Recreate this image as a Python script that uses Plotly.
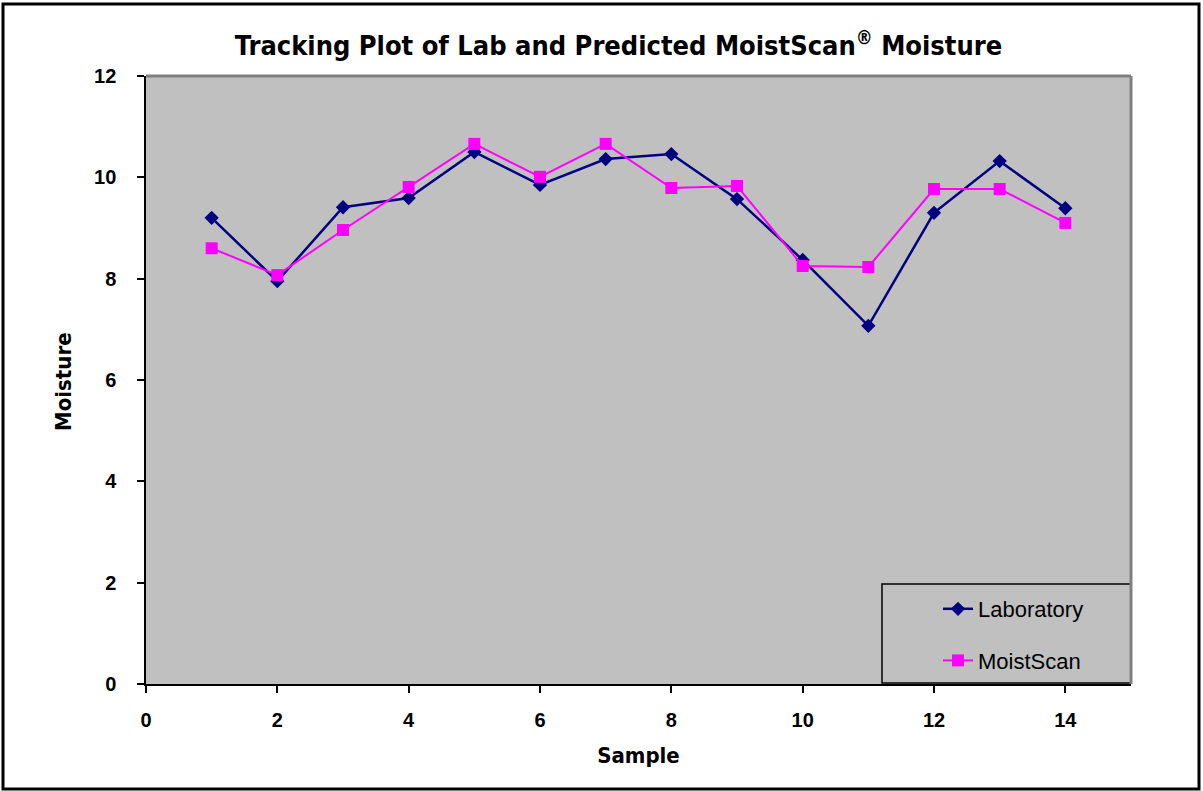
import plotly.graph_objects as go

samples = list(range(1, 15))
laboratory = [9.20, 7.95, 9.41, 9.59, 10.50, 9.85, 10.36, 10.46, 9.57, 8.37, 7.07, 9.30, 10.32, 9.39]
moistscan = [8.60, 8.07, 8.96, 9.81, 10.66, 10.01, 10.66, 9.79, 9.83, 8.25, 8.23, 9.77, 9.77, 9.10]

W, H = 1203, 791
L, R, T, B = 146, 1131, 76, 684
pw, ph = R - L, B - T

def px(x):
    return (x - L) / pw

def py(y):
    return (B - y) / ph

fig = go.Figure()
fig.add_trace(go.Scatter(
    x=samples, y=laboratory, name="Laboratory", mode="lines+markers",
    line=dict(color="#000080", width=2.5),
    marker=dict(symbol="diamond", size=11, color="#000080"),
    legendgroup="a",
))
fig.add_trace(go.Scatter(
    x=samples, y=moistscan, name="MoistScan", mode="lines+markers",
    line=dict(color="#FF00FF", width=2),
    marker=dict(symbol="square", size=12, color="#FF00FF"),
    legendgroup="b",
))

fig.update_layout(
    width=W, height=H,
    margin=dict(l=L, r=W - R, t=T, b=H - B),
    paper_bgcolor="white",
    plot_bgcolor="#C0C0C0",
    title=dict(
        text="Tracking Plot of Lab and Predicted MoistScan<sup>®</sup> Moisture",
        font=dict(family="DejaVu Sans Condensed", size=27, color="black", weight="bold"),
        x=(237 + 1000) / 2 / W, xanchor="center", y=1 - 46 / H, yanchor="middle",
    ),
    font=dict(family="Liberation Sans", color="black"),
    xaxis=dict(
        range=[0, 15], dtick=2, tick0=0, showgrid=False, zeroline=False,
        showline=True, linecolor="black", linewidth=2,
        ticks="outside", ticklen=7, tickwidth=2, tickcolor="black",
        ticklabelstandoff=10,
        tickfont=dict(size=20, family="Liberation Sans", weight="bold"),
        title=dict(text="Sample", font=dict(size=22, family="DejaVu Sans Condensed", weight="bold"), standoff=18),
    ),
    yaxis=dict(
        range=[0, 12], dtick=2, tick0=0, showgrid=False, zeroline=False,
        showline=True, linecolor="black", linewidth=2,
        ticks="outside", ticklen=7, tickwidth=2, tickcolor="black",
        ticksuffix="\u00a0\u00a0\u00a0",
        tickfont=dict(size=20, family="Liberation Sans", weight="bold"),
    ),
    annotations=[
        dict(text="Moisture", xref="paper", yref="paper", x=px(63), y=py(382),
             xanchor="center", yanchor="middle", textangle=-90, showarrow=False,
             font=dict(size=22, family="DejaVu Sans Condensed", weight="bold", color="black")),
    ],
    legend=dict(
        x=px(938), y=py(588), xanchor="left", yanchor="top",
        bgcolor="rgba(0,0,0,0)", borderwidth=0,
        font=dict(size=22, family="Liberation Sans", color="black"),
        tracegroupgap=20,
    ),
    showlegend=True,
    shapes=[
        dict(type="line", xref="paper", yref="paper", x0=0, x1=1, y0=1, y1=1,
             line=dict(color="#808080", width=3), layer="above"),
        dict(type="line", xref="paper", yref="paper", x0=1, x1=1, y0=0, y1=1,
             line=dict(color="#808080", width=3), layer="above"),
        dict(type="rect", xref="paper", yref="paper", x0=px(882), x1=px(1131), y0=py(683), y1=py(584),
             line=dict(color="black", width=1.5), fillcolor="#C0C0C0", layer="below"),
        dict(type="rect", xref="paper", yref="paper", x0=px(3), x1=px(1199), y0=py(789), y1=py(4),
             line=dict(color="black", width=3), fillcolor="rgba(0,0,0,0)", layer="above"),
    ],
)

fig.write_html(
    "out.html",
    config={"displayModeBar": False},
    post_script="document.body.style.margin='0';document.body.style.padding='0';document.body.style.overflow='hidden';",
)
